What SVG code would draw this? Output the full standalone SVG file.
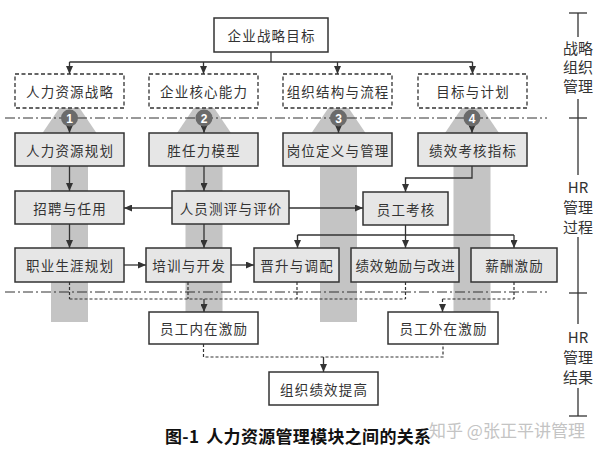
<svg xmlns="http://www.w3.org/2000/svg" width="602" height="453" viewBox="0 0 602 453">
<style>
.box{fill:#e6e6e6;stroke:#333;stroke-width:1.5}
.wbox{fill:#fff;stroke:#333;stroke-width:1.5}
.dbox{fill:#fff;stroke:#333;stroke-width:1.3;stroke-dasharray:4 2.5}
.t{font-family:"Noto Sans CJK SC","Noto Sans CJK TC",sans-serif;font-size:13.5px;fill:#333;text-anchor:middle;dominant-baseline:central;letter-spacing:1.2px}
.ln{stroke:#333;stroke-width:1.3;fill:none}
.dl{stroke:#333;stroke-width:1.2;fill:none;stroke-dasharray:3 2}
.dd{stroke:#333;stroke-width:1;fill:none;stroke-dasharray:10 3 2 3}
.band{fill:#c4c4c4}
.num{fill:#6b6b6b}
.nt{font-family:"Liberation Sans",Arial,sans-serif;font-size:12px;font-weight:bold;fill:#fff;text-anchor:middle;dominant-baseline:central}
.side{font-family:"Noto Sans CJK SC","Liberation Sans",sans-serif;font-size:15px;fill:#333;text-anchor:middle;dominant-baseline:central}
.ax{stroke:#333;stroke-width:1.3;fill:none}
</style>
<defs>
<marker id="ah" markerUnits="userSpaceOnUse" markerWidth="8" markerHeight="7" refX="8" refY="3.5" orient="auto">
<path d="M0,0 L8,3.5 L0,7 z" fill="#333"/>
</marker>
</defs>

<g id="bands">
<polygon class="band" points="42.5,133 96.5,133 69.5,93"/>
<rect class="band" x="51" y="130" width="37" height="192"/>
<polygon class="band" points="177,133 231,133 204,93"/>
<rect class="band" x="185.5" y="130" width="37" height="192"/>
<polygon class="band" points="311.5,133 365.5,133 338.5,93"/>
<rect class="band" x="320" y="130" width="37" height="192"/>
<polygon class="band" points="445,133 499,133 472,93"/>
<rect class="band" x="453.5" y="130" width="37" height="192"/>
</g>

<g id="separators">
<line class="dd" x1="5" y1="118" x2="547" y2="118"/>
<line class="dd" x1="5" y1="292" x2="547" y2="292"/>
</g>

<g id="connectors">
<polyline class="ln" points="271,52 271,62"/>
<polyline class="ln" points="69.5,62 472.5,62"/>
<line class="ln" x1="69.5" y1="62" x2="69.5" y2="74" marker-end="url(#ah)"/>
<line class="ln" x1="203.5" y1="62" x2="203.5" y2="74" marker-end="url(#ah)"/>
<line class="ln" x1="337.5" y1="62" x2="337.5" y2="74" marker-end="url(#ah)"/>
<line class="ln" x1="472.5" y1="62" x2="472.5" y2="74" marker-end="url(#ah)"/>

<line class="ln" x1="69.5" y1="126" x2="69.5" y2="133" marker-end="url(#ah)"/>
<line class="ln" x1="204" y1="126" x2="204" y2="133" marker-end="url(#ah)"/>
<line class="ln" x1="338.5" y1="126" x2="338.5" y2="133" marker-end="url(#ah)"/>
<line class="ln" x1="472" y1="126" x2="472" y2="133" marker-end="url(#ah)"/>

<line class="ln" x1="69.5" y1="166" x2="69.5" y2="191" marker-end="url(#ah)"/>
<line class="ln" x1="69.5" y1="224" x2="69.5" y2="248" marker-end="url(#ah)"/>
<line class="ln" x1="204" y1="166" x2="204" y2="191" marker-end="url(#ah)"/>
<line class="ln" x1="204" y1="224" x2="204" y2="248" marker-end="url(#ah)"/>
<line class="ln" x1="172" y1="208" x2="124" y2="208" marker-end="url(#ah)"/>
<line class="ln" x1="289" y1="208" x2="363" y2="208" marker-end="url(#ah)"/>
<polyline class="ln" points="472,166 472,178 405.5,178 405.5,192" marker-end="url(#ah)"/>
<line class="ln" x1="124" y1="265" x2="146" y2="265" marker-end="url(#ah)"/>
<line class="ln" x1="231" y1="265" x2="254" y2="265" marker-end="url(#ah)"/>
<polyline class="ln" points="405.5,225 405.5,235"/>
<polyline class="ln" points="297.5,235 514,235"/>
<line class="ln" x1="297.5" y1="235" x2="297.5" y2="248" marker-end="url(#ah)"/>
<line class="ln" x1="405.5" y1="235" x2="405.5" y2="248" marker-end="url(#ah)"/>
<line class="ln" x1="514" y1="235" x2="514" y2="248" marker-end="url(#ah)"/>

<line class="dl" x1="69.5" y1="282" x2="69.5" y2="299"/>
<line class="dl" x1="188" y1="282" x2="188" y2="299"/>
<line class="dl" x1="297" y1="282" x2="297" y2="299"/>
<line class="dl" x1="405.5" y1="282" x2="405.5" y2="299"/>
<line class="dl" x1="69.5" y1="299" x2="405.5" y2="299"/>
<line class="ln" x1="204" y1="299" x2="204" y2="312" marker-end="url(#ah)"/>
<line class="dl" x1="514" y1="282" x2="514" y2="299"/>
<line class="dl" x1="442.5" y1="299" x2="514" y2="299"/>
<line class="dl" x1="442.5" y1="299" x2="442.5" y2="306"/>
<line class="ln" x1="442.5" y1="305" x2="442.5" y2="312" marker-end="url(#ah)"/>

<polyline class="dl" points="203.5,344 203.5,357 443,357 443,344"/>
<line class="ln" x1="323.5" y1="357" x2="323.5" y2="372" marker-end="url(#ah)"/>
</g>

<g id="n-top"><rect class="wbox" x="214" y="18" width="114" height="34"/><text class="t" x="271.6" y="35">企业战略目标</text></g>

<g id="n-hrstrategy"><rect class="dbox" x="15" y="74" width="109" height="34"/><text class="t" x="70.1" y="91">人力资源战略</text></g>
<g id="n-core"><rect class="dbox" x="149" y="74" width="109" height="34"/><text class="t" x="204.1" y="91">企业核心能力</text></g>
<g id="n-org"><rect class="dbox" x="283" y="74" width="109" height="34"/><text class="t" x="338.1" y="91">组织结构与流程</text></g>
<g id="n-goal"><rect class="dbox" x="418" y="74" width="109" height="34"/><text class="t" x="473.1" y="91">目标与计划</text></g>

<g id="circles">
<circle class="num" cx="69.5" cy="118" r="8.5"/><text class="nt" x="69.5" y="118.5">1</text>
<circle class="num" cx="204" cy="118" r="8.5"/><text class="nt" x="204" y="118.5">2</text>
<circle class="num" cx="338.5" cy="118" r="8.5"/><text class="nt" x="338.5" y="118.5">3</text>
<circle class="num" cx="472" cy="118" r="8.5"/><text class="nt" x="472" y="118.5">4</text>
</g>

<g id="n-hrplan"><rect class="box" x="15" y="133" width="109" height="33"/><text class="t" x="70.1" y="149.5">人力资源规划</text></g>
<g id="n-comp"><rect class="box" x="149" y="133" width="109" height="33"/><text class="t" x="204.1" y="149.5">胜任力模型</text></g>
<g id="n-job"><rect class="box" x="283" y="133" width="109" height="33"/><text class="t" x="338.1" y="149.5">岗位定义与管理</text></g>
<g id="n-kpi"><rect class="box" x="418" y="133" width="109" height="33"/><text class="t" x="473.1" y="149.5">绩效考核指标</text></g>

<g id="n-recruit"><rect class="box" x="15" y="191" width="109" height="33"/><text class="t" x="70.1" y="207.5">招聘与任用</text></g>
<g id="n-assess"><rect class="box" x="172" y="191" width="117" height="33"/><text class="t" x="231.1" y="207.5">人员测评与评价</text></g>
<g id="n-review"><rect class="box" x="363" y="192" width="85" height="33"/><text class="t" x="406.1" y="208.5">员工考核</text></g>

<g id="n-career"><rect class="box" x="15" y="248" width="109" height="34"/><text class="t" x="70.1" y="265">职业生涯规划</text></g>
<g id="n-train"><rect class="box" x="146" y="248" width="85" height="34"/><text class="t" x="189.1" y="265">培训与开发</text></g>
<g id="n-promo"><rect class="box" x="254" y="248" width="85" height="34"/><text class="t" x="297.1" y="265">晋升与调配</text></g>
<g id="n-perf"><rect class="box" x="351" y="248" width="108" height="34"/><text class="t" x="405.6" y="265" style="letter-spacing:0.8px">绩效勉励与改进</text></g>
<g id="n-pay"><rect class="box" x="471" y="248" width="86" height="34"/><text class="t" x="514.6" y="265">薪酬激励</text></g>

<g id="n-intrinsic"><rect class="wbox" x="149" y="312" width="109" height="32"/><text class="t" x="204.1" y="328">员工内在激励</text></g>
<g id="n-extrinsic"><rect class="wbox" x="388" y="312" width="110" height="32"/><text class="t" x="443.6" y="328">员工外在激励</text></g>
<g id="n-result"><rect class="wbox" x="269" y="372" width="109" height="33"/><text class="t" x="324.1" y="388.5">组织绩效提高</text></g>

<g id="axis">
<line class="ax" x1="569" y1="13" x2="587" y2="13"/>
<line class="ax" x1="578" y1="13" x2="578" y2="37"/>
<text class="side" x="578" y="47">战略</text>
<text class="side" x="578" y="66">组织</text>
<text class="side" x="578" y="85">管理</text>
<line class="ax" x1="578" y1="99" x2="578" y2="175"/>
<line class="ax" x1="569" y1="118" x2="587" y2="118"/>
<text class="side" x="578" y="186">HR</text>
<text class="side" x="578" y="206">管理</text>
<text class="side" x="578" y="226">过程</text>
<line class="ax" x1="578" y1="237" x2="578" y2="324"/>
<line class="ax" x1="569" y1="293" x2="587" y2="293"/>
<text class="side" x="578" y="336">HR</text>
<text class="side" x="578" y="356">管理</text>
<text class="side" x="578" y="376">结果</text>
<line class="ax" x1="578" y1="388" x2="578" y2="416"/>
<line class="ax" x1="569" y1="416" x2="587" y2="416"/>
</g>

<text x="507" y="437" style="font-family:'Noto Sans CJK SC',sans-serif;font-size:17px;fill:#c4c4c4;text-anchor:middle">知乎 @张正平讲管理</text>
<text x="165" y="443" textLength="266" lengthAdjust="spacing" style="font-family:'Noto Sans CJK SC',sans-serif;font-size:17px;font-weight:bold;fill:#111">图-1<tspan dx="7">人力资源管理模块之间的关系</tspan></text>
</svg>
